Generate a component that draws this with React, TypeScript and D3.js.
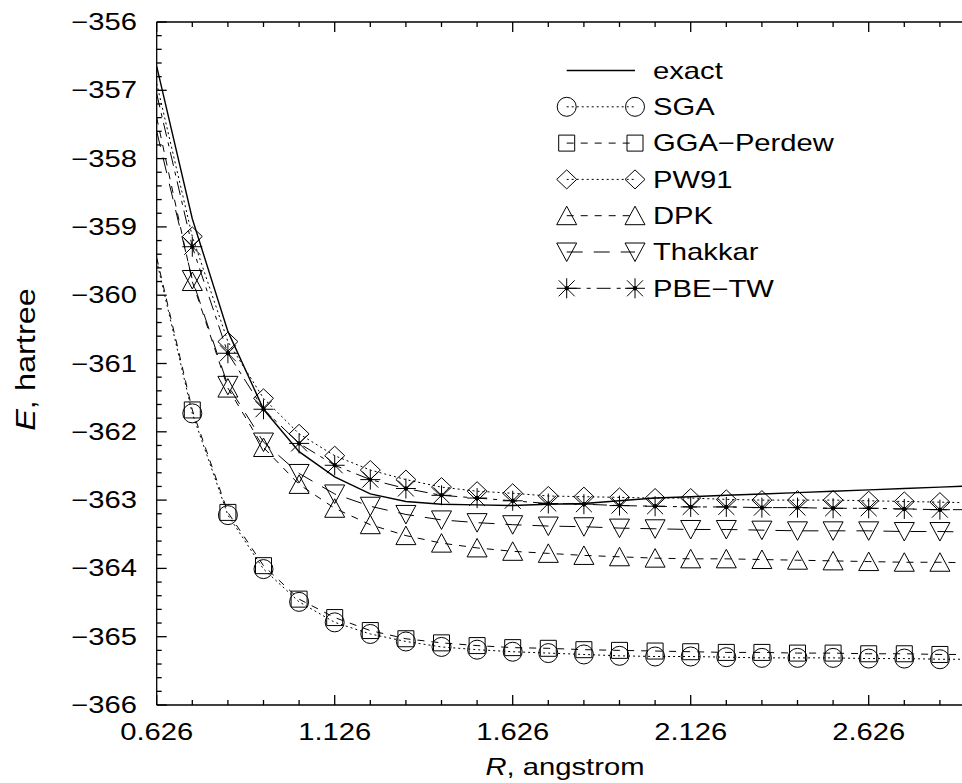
import React from 'react';
import * as d3 from 'd3';

// R grid (angstrom); markers are drawn from the 2nd point on
const R = [0.626, 0.726, 0.826, 0.926, 1.026, 1.126, 1.226, 1.326, 1.426, 1.526, 1.626, 1.726,
  1.826, 1.926, 2.026, 2.126, 2.226, 2.326, 2.426, 2.526, 2.626, 2.726, 2.826, 2.926];

const exact = [-356.65, -358.88, -360.53, -361.67, -362.29, -362.66, -362.91, -363.02, -363.06, -363.07, -363.08, -363.06,
  -363.05, -363.01, -362.97, -362.95, -362.93, -362.91, -362.89, -362.87, -362.85, -362.83, -362.81, -362.79];
const sga = [-359.50, -361.73, -363.22, -364.01, -364.49, -364.79, -364.96, -365.07, -365.15, -365.19, -365.22, -365.24,
  -365.26, -365.28, -365.29, -365.29, -365.30, -365.31, -365.31, -365.31, -365.32, -365.32, -365.33, -365.33];
const ggaPerdew = [-359.45, -361.68, -363.18, -363.96, -364.45, -364.72, -364.91, -365.03, -365.09, -365.13, -365.16, -365.17,
  -365.19, -365.20, -365.21, -365.22, -365.23, -365.23, -365.24, -365.24, -365.25, -365.25, -365.26, -365.26];
const pw91 = [-356.90, -359.14, -360.68, -361.51, -362.03, -362.35, -362.56, -362.70, -362.81, -362.87, -362.90, -362.94,
  -362.95, -362.96, -362.97, -362.97, -362.99, -363.00, -363.00, -363.00, -363.01, -363.02, -363.03, -363.04];
const dpk = [-357.40, -359.80, -361.36, -362.23, -362.77, -363.12, -363.36, -363.52, -363.63, -363.70, -363.75, -363.78,
  -363.81, -363.83, -363.85, -363.86, -363.86, -363.87, -363.88, -363.89, -363.90, -363.91, -363.91, -363.92];
const thakkar = [-357.60, -359.77, -361.32, -362.15, -362.61, -362.91, -363.09, -363.21, -363.29, -363.33, -363.36, -363.38,
  -363.39, -363.41, -363.42, -363.43, -363.43, -363.44, -363.45, -363.45, -363.45, -363.46, -363.46, -363.47];
const pbeTw = [-357.05, -359.29, -360.85, -361.67, -362.17, -362.49, -362.70, -362.83, -362.93, -362.97, -363.01, -363.05,
  -363.06, -363.08, -363.09, -363.10, -363.10, -363.11, -363.11, -363.12, -363.12, -363.13, -363.14, -363.14];

const legendNames = ['exact', 'SGA', 'GGA\u2212Perdew', 'PW91', 'DPK', 'Thakkar', 'PBE\u2212TW'];

type Marker = 'none' | 'circle' | 'square' | 'diamond' | 'up' | 'down' | 'star';

const series: { name: string; values: number[]; dash: string; marker: Marker }[] = [
  { name: legendNames[0], values: exact, dash: '', marker: 'none' },
  { name: legendNames[1], values: sga, dash: '2,3', marker: 'circle' },
  { name: legendNames[2], values: ggaPerdew, dash: '7,7', marker: 'square' },
  { name: legendNames[3], values: pw91, dash: '2,3', marker: 'diamond' },
  { name: legendNames[4], values: dpk, dash: '7,7', marker: 'up' },
  { name: legendNames[5], values: thakkar, dash: '16,11', marker: 'down' },
  { name: legendNames[6], values: pbeTw, dash: '14,6,4,6', marker: 'star' },
];

const W = 962;
const H = 783;
const left = 156.7, top = 22, bottom = 705, right = 975.5;
const SX = 1.27; // the original glyphs are stretched horizontally
const FONT = 'Liberation Sans, Arial, Helvetica, sans-serif';
const FS = 23;

const x = d3.scaleLinear().domain([0.626, 2.926]).range([left, right]);
const y = d3.scaleLinear().domain([-366, -356]).range([bottom, top]);

function markerPath(type: Marker): string {
  switch (type) {
    case 'circle': {
      const p = d3.path();
      p.arc(0, 0, 9.5, 0, Math.PI * 2);
      return p.toString();
    }
    case 'square':
      return 'M-8,-8H8V8H-8Z';
    case 'diamond':
      return 'M0,-9.5L10,0L0,9.5L-10,0Z';
    case 'up':
      return 'M0,-9.5L10,9L-10,9Z';
    case 'down':
      return 'M0,9.5L10,-9L-10,-9Z';
    case 'star':
      return 'M-10,0H10M0,-10V10M-8,-8L8,8M-8,8L8,-8';
    default:
      return '';
  }
}

const Mark: React.FC<{ type: Marker; cx: number; cy: number }> = ({ type, cx, cy }) => {
  if (type === 'none') return null;
  return (
    <g transform={`translate(${cx},${cy})`}>
      <path d={markerPath(type)} fill="none" stroke="#000" strokeWidth={1} />
      {type === 'star' && <circle r={2.2} fill="#000" />}
    </g>
  );
};

const Label: React.FC<{ x: number; y: number; anchor?: string; transform?: string; size?: number; children: React.ReactNode }> = ({
  x: tx, y: ty, anchor = 'start', transform, size = FS, children,
}) => (
  <text
    transform={`translate(${tx},${ty}) ${transform ?? `scale(${SX},1)`}`}
    textAnchor={anchor}
    fontFamily={FONT}
    fontSize={size}
    fill="#000"
  >
    {children}
  </text>
);

export default function App() {
  const line = d3.line<number>()
    .x((_, i) => x(R[i]))
    .y(d => y(d));

  const xTicks = d3.range(R.length).map(i => ({ v: R[i], major: i % 5 === 0 }));
  const yTicks = d3.range(51).map(i => ({ v: -366 + i * 0.2, major: i % 5 === 0 }));
  const fmtX = d3.format('.3f');

  const legX0 = 566.7, legX1 = 635, legText = 653, legY0 = 70.5, legDy = 36.3;

  return (
    <div style={{ position: 'absolute', left: 0, top: 0, background: '#fff' }}>
      <svg width={W} height={H} viewBox={`0 0 ${W} ${H}`} style={{ display: 'block' }}>
        <rect width={W} height={H} fill="#fff" />
        <defs>
          <clipPath id="plot">
            <rect x={left} y={top} width={right - left} height={bottom - top} />
          </clipPath>
        </defs>

        {/* series */}
        <g clipPath="url(#plot)">
          {series.map(s => (
            <path key={s.name} d={line(s.values) || ''} fill="none" stroke="#000"
              strokeWidth={s.marker === 'none' ? 1.4 : 1} strokeDasharray={s.dash || undefined} />
          ))}
          {series.map(s => s.values.map((v, i) => i === 0 ? null : (
            <Mark key={s.name + i} type={s.marker} cx={x(R[i])} cy={y(v)} />
          )))}
        </g>

        {/* axes */}
        <g stroke="#000" strokeWidth={1.3} fill="none">
          <line x1={left} y1={top} x2={left} y2={bottom} />
          <line x1={left} y1={top} x2={W} y2={top} />
          <line x1={left} y1={bottom} x2={W} y2={bottom} />
          {xTicks.map(t => (
            <g key={'x' + t.v}>
              <line x1={x(t.v)} x2={x(t.v)} y1={bottom} y2={bottom - (t.major ? 10 : 5)} />
              <line x1={x(t.v)} x2={x(t.v)} y1={top} y2={top + (t.major ? 10 : 5)} />
            </g>
          ))}
          {yTicks.map(t => (
            <line key={'y' + t.v} x1={left} x2={left + (t.major ? 10 : 5)} y1={y(t.v)} y2={y(t.v)} />
          ))}
        </g>

        {xTicks.filter(t => t.major).map(t => (
          <Label key={'xl' + t.v} x={x(t.v)} y={740} anchor="middle">{fmtX(t.v)}</Label>
        ))}
        {yTicks.filter(t => t.major).map(t => (
          <Label key={'yl' + t.v} x={137} y={y(t.v) + 8} anchor="end">
            {'\u2212' + Math.round(Math.abs(t.v))}
          </Label>
        ))}

        <Label x={565} y={774.5} anchor="middle">
          <tspan fontStyle="italic">R</tspan>, angstrom
        </Label>
        <Label x={35} y={(top + bottom) / 2 - 4} anchor="middle" size={25} transform="rotate(-90) scale(1.3,1.12)">
          <tspan fontStyle="italic">E</tspan>, hartree
        </Label>

        {/* legend */}
        {series.map((s, i) => {
          const ly = legY0 + i * legDy;
          return (
            <g key={'leg' + s.name}>
              <line x1={legX0} x2={legX1} y1={ly} y2={ly} stroke="#000"
                strokeWidth={s.marker === 'none' ? 1.4 : 1} strokeDasharray={s.dash || undefined} />
              <Mark type={s.marker} cx={legX0} cy={ly} />
              <Mark type={s.marker} cx={legX1} cy={ly} />
              <Label x={legText} y={ly + 8.3}>{s.name}</Label>
            </g>
          );
        })}
      </svg>
    </div>
  );
}
